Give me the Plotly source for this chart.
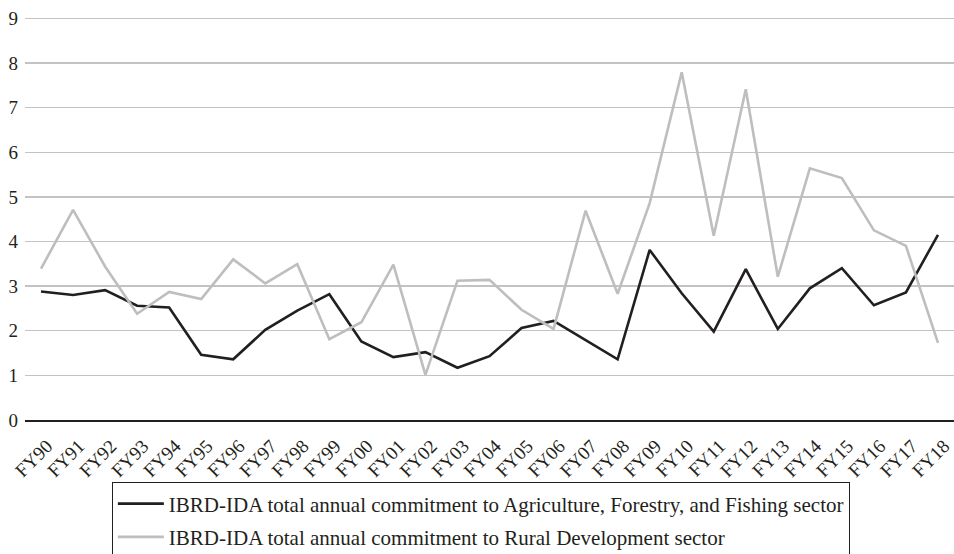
import plotly.graph_objects as go

years = ["FY90", "FY91", "FY92", "FY93", "FY94", "FY95", "FY96", "FY97", "FY98", "FY99",
         "FY00", "FY01", "FY02", "FY03", "FY04", "FY05", "FY06", "FY07", "FY08", "FY09",
         "FY10", "FY11", "FY12", "FY13", "FY14", "FY15", "FY16", "FY17", "FY18"]

agri = [2.88, 2.80, 2.91, 2.56, 2.52, 1.46, 1.36, 2.02, 2.45, 2.82,
        1.76, 1.41, 1.52, 1.17, 1.43, 2.06, 2.22, 1.79, 1.36, 3.81,
        2.84, 1.98, 3.38, 2.04, 2.95, 3.40, 2.57, 2.86, 4.15]

rural = [3.39, 4.71, 3.44, 2.38, 2.87, 2.71, 3.60, 3.06, 3.49, 1.81,
         2.19, 3.48, 1.01, 3.12, 3.14, 2.47, 2.04, 4.69, 2.83, 4.86,
         7.79, 4.13, 7.41, 3.21, 5.64, 5.42, 4.25, 3.90, 1.73]

y_ticks = [0, 1, 2, 3, 4, 5, 6, 7, 8, 9]

name_agri = "IBRD-IDA total annual commitment to Agriculture, Forestry, and Fishing sector"
name_rural = "IBRD-IDA total annual commitment to Rural Development sector"

FONT = "Liberation Serif"

fig = go.Figure()
fig.add_trace(go.Scatter(x=years, y=agri, mode="lines", name=name_agri,
                         legendgroup="a",
                         line=dict(color="#231f20", width=2.6)))
fig.add_trace(go.Scatter(x=years, y=rural, mode="lines", name=name_rural,
                         legendgroup="b",
                         line=dict(color="#bcbec0", width=2.6)))

fig.update_layout(
    width=954, height=554,
    margin=dict(l=25, r=0, t=17, b=134, autoexpand=False),
    paper_bgcolor="white", plot_bgcolor="white",
    font=dict(family=FONT, color="#231f20", size=18),
    showlegend=True,
    legend=dict(
        x=0.0935, xanchor="left", y=-0.155, yanchor="top",
        bordercolor="#231f20", borderwidth=1,
        font=dict(family=FONT, size=21, color="#231f20"),
        traceorder="grouped", tracegroupgap=3,
        itemwidth=46,
        bgcolor="white",
    ),
    xaxis=dict(
        type="category", range=[-0.5, len(years) - 0.5],
        showgrid=False, showline=True, linecolor="#231f20", linewidth=1.5,
        ticks="", tickangle=-45, tickfont=dict(family=FONT, size=19, color="#231f20"),
        ticklabelshift=6, ticklabelstandoff=6,
        fixedrange=True,
    ),
    yaxis=dict(
        range=[0, 9.03], tickvals=y_ticks, showgrid=True, gridcolor="#c3c3c3",
        gridwidth=1.3, zeroline=False, showline=False, ticks="",
        tickfont=dict(family=FONT, size=19, color="#231f20"), ticklabelstandoff=6,
        fixedrange=True,
    ),
)

fig.write_html("out.html",
               config={"displayModeBar": False, "staticPlot": True},
               post_script="document.body.style.margin='0px';document.body.style.overflow='hidden';")
